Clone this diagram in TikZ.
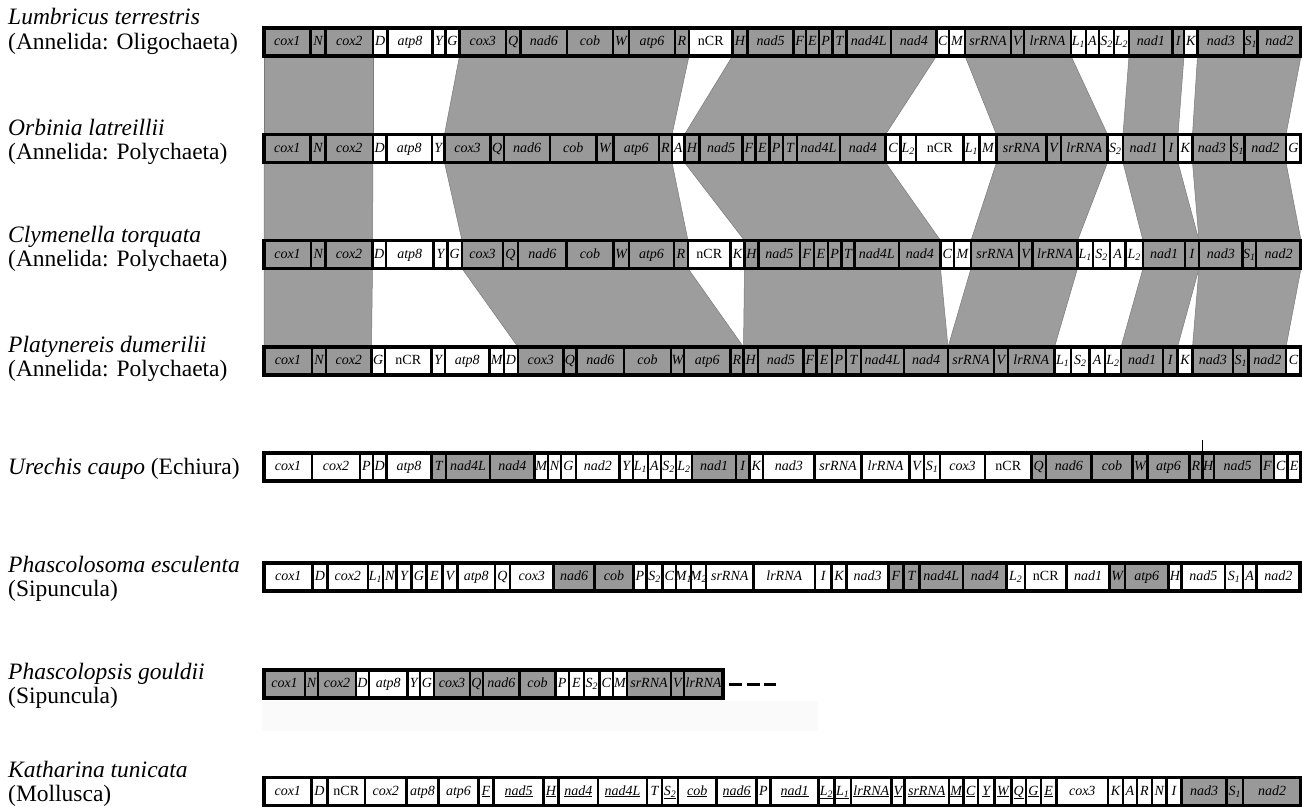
\documentclass[tikz,border=0pt]{standalone}
\usepackage{fontspec}
\setmainfont{Liberation Serif}
\usetikzlibrary{positioning,backgrounds}
\definecolor{geneg}{HTML}{999999}
\definecolor{bandg}{HTML}{9D9D9D}
\definecolor{bandedge}{HTML}{7A7A7A}
% gene labels that are not simply the node name
\newcommand\gul[1]{#1}
\newcommand\setglab[2]{\expandafter\def\csname gl-#1\endcsname{#2}}
\newcommand\glab[1]{\ifcsname gl-#1\endcsname\csname gl-#1\endcsname\else#1\fi}
\setglab{nCR}{\textup{nCR}}
\setglab{L1}{L\textsubscript{1}}
\setglab{L2}{L\textsubscript{2}}
\setglab{S1}{S\textsubscript{1}}
\setglab{S2}{S\textsubscript{2}}
\setglab{M1}{M\textsubscript{1}}
\setglab{M2}{M\textsubscript{2}}
\tikzset{
  genebox/.style={
    rectangle, draw=black, line width=2.4pt,
    minimum height=28, inner sep=0pt, outer sep=0pt,
    text height=10pt, text depth=3pt,
    font=\fontsize{14}{16}\selectfont\itshape
  },
  gg/.style={genebox, fill=geneg},
  ww/.style={genebox, fill=white},
  wu/.style={ww, /utils/exec=\let\gul\underline},
  rowframe/.style={draw=black, line width=3.4pt},
  band/.style={fill=bandg, draw=bandedge, line width=0.5pt},
  splabel/.style={
    anchor=west, align=left, inner sep=0pt,
    font=\fontsize{23.5}{24.5}\selectfont
  },
}
% one gene order: id, left x, centre y, list of name/width/style
\newcommand\generow[4]{%
  \coordinate (#1-start) at (#2,#3);
  \xdef\prev{#1-start}
  \foreach \nm/\w/\st in {#4}{
    \node[\st, minimum width=\w, right=0pt of \prev] (#1-\nm)
      {\makebox[0pt]{\gul{\glab{\nm}}}};
    \xdef\prev{#1-\nm}
  }
  \draw[rowframe] (#1-start |- \prev.north) rectangle (\prev.south east);
}
% shaded block between two gene orders
\newcommand\band[4]{%
  \filldraw[band] (#1.south west) -- (#2.south east)
    -- (#4.north east) -- (#3.north west) -- cycle;
}
\begin{document}
\begin{tikzpicture}[x=1pt, y=-1pt]
\useasboundingbox (0,0) rectangle (1302,807);

% Annelida
\generow{r1}{264}{42}{cox1/46.5/gg, N/15/gg, cox2/47.5/gg, D/14.5/ww, atp8/45/ww,
  Y/13/ww, G/14/ww, cox3/46.5/gg, Q/14.5/gg, nad6/46.5/gg, cob/46/gg, W/16/gg,
  atp6/46/gg, R/14/gg, nCR/43.5/ww, H/15/gg, nad5/46/gg, F/12.5/gg, E/13/gg,
  P/13.5/gg, T/14/gg, nad4L/44.5/gg, nad4/45.5/gg, C/12.5/ww, M/16/ww,
  srRNA/46/gg, V/13/gg, lrRNA/47/gg, L1/15/ww, A/13/ww, S2/15/ww, L2/15/ww,
  nad1/43.5/gg, I/11.5/gg, K/13.5/ww, nad3/46.5/gg, S1/13.5/gg, nad2/43.5/gg}
\generow{r2}{264}{148.5}{cox1/46.5/gg, N/15/gg, cox2/47.5/gg, D/13.5/ww,
  atp8/45.5/ww, Y/12.5/ww, cox3/46/gg, Q/13.5/gg, nad6/46/gg, cob/46.5/gg,
  W/17/gg, atp6/45.5/gg, R/13/gg, A/12.5/ww, H/15/gg, nad5/43/gg, F/13/gg,
  E/14/gg, P/13.5/gg, T/14/gg, nad4L/43/gg, nad4/45.5/gg, C/15/ww, L2/15.5/ww,
  nCR/47.5/ww, L1/16/ww, M/17/ww, srRNA/50/gg, V/14.5/gg, lrRNA/46.5/gg,
  S2/15.5/ww, nad1/41/gg, I/14/gg, K/14.5/ww, nad3/38.5/gg, S1/13.5/gg,
  nad2/41.5/gg, G/15/ww}
\generow{r3}{264}{254.5}{cox1/47/gg, N/14.5/gg, cox2/47/gg, D/13.5/ww,
  atp8/47.5/ww, Y/14/ww, G/14.5/ww, cox3/41/gg, Q/15/gg, nad6/48.5/gg,
  cob/47/gg, W/15.5/gg, atp6/45/gg, R/14/gg, nCR/42.5/ww, K/14/ww, H/14/gg,
  nad5/41.5/gg, F/14/gg, E/14/gg, P/13.5/gg, T/13/gg, nad4L/44.5/gg,
  nad4/41.5/gg, C/13.5/ww, M/17/ww, srRNA/48/gg, V/13.5/gg, lrRNA/45/gg,
  L1/15.5/ww, S2/17/ww, A/15.5/ww, L2/17.5/ww, nad1/42/gg, I/14/gg,
  nad3/43.5/gg, S1/13.5/gg, nad2/45/gg}
\generow{r4}{264}{361}{cox1/48/gg, N/14/gg, cox2/45.5/gg, G/13.5/ww,
  nCR/46.5/ww, Y/13.5/ww, atp8/44.5/ww, M/14.5/ww, D/14/ww, cox3/45.5/gg,
  Q/13/gg, nad6/47.5/gg, cob/47/gg, W/13/gg, atp6/46.5/gg, R/13/gg, H/14.5/gg,
  nad5/45.5/gg, F/13/gg, E/15.5/gg, P/14/gg, T/15/gg, nad4L/43/gg, nad4/44/gg,
  srRNA/46/gg, V/14/gg, lrRNA/46.5/gg, L1/16.5/ww, S2/18.5/ww, A/15.5/ww,
  L2/16/ww, nad1/42/gg, I/14.5/gg, K/15/ww, nad3/40.5/gg, S1/15.5/gg,
  nad2/37.5/gg, C/15/ww}

% conserved blocks
\begin{scope}[on background layer]
  \foreach \a/\b in {r1/r2, r2/r3, r3/r4}
    \foreach \p/\q in {cox1/cox2, cox3/R, H/nad4, srRNA/lrRNA, nad1/I, nad3/nad2}
      \band{\a-\p}{\a-\q}{\b-\p}{\b-\q};
\end{scope}

% Echiura, Sipuncula, Mollusca
\generow{r5}{264}{467}{cox1/48/ww, cox2/48/ww, P/13/ww, D/13.5/ww, atp8/45/ww,
  T/14.5/gg, nad4L/44/gg, nad4/44.5/gg, M/13.5/ww, N/13/ww, G/15/ww,
  nad2/43.5/ww, Y/13.5/ww, L1/15/ww, A/13/ww, S2/15/ww, L2/16/ww, nad1/44/gg,
  I/13.5/gg, K/13.5/ww, nad3/51.5/ww, srRNA/47/ww, lrRNA/48/ww, V/14.5/ww,
  S1/16/ww, cox3/45/ww, nCR/46.5/ww, Q/14.5/gg, nad6/45.5/gg, cob/41/gg,
  W/15/gg, atp6/42/gg, R/13/gg, H/11.5/gg, nad5/47/gg, F/13/gg, C/13.5/ww,
  E/13.5/ww}
\draw[line width=1.2pt] (r5-H.north west) -- ++(0,-13);

\generow{r6}{264}{577}{cox1/48.5/ww, D/15/ww, cox2/40.5/ww, L1/15/ww,
  N/13.5/ww, Y/15/ww, G/15/ww, E/16/ww, V/15/ww, atp8/37.5/ww, Q/15/ww,
  cox3/43.5/ww, nad6/41/gg, cob/39/gg, P/13/ww, S2/16/ww, C/13.5/ww, M1/15/ww,
  M2/15/ww, srRNA/47.5/ww, lrRNA/61.5/ww, I/16.5/ww, K/15/ww, nad3/42/ww,
  F/15/gg, T/16/gg, nad4L/43.5/gg, nad4/43.5/gg, L2/18.5/ww, nCR/41.5/ww,
  nad1/43/ww, W/15.5/gg, atp6/43.5/gg, H/13/ww, nad5/43.5/ww, S1/18/ww,
  A/13.5/ww, nad2/43.5/ww}

\fill[gray!4] (262,701) rectangle (818,731);
\generow{r7}{264}{684}{cox1/41/gg, N/13/gg, cox2/38/gg, D/13/ww, atp8/38.5/ww,
  Y/12.5/ww, G/14/ww, cox3/36/gg, Q/13/gg, nad6/36.5/gg, cob/36/gg, P/13.5/ww,
  E/15/ww, S2/15.5/ww, C/13.5/ww, M/14/ww, srRNA/44/gg, V/13/gg, lrRNA/39/gg}
\draw[line width=3pt, dash pattern=on 13pt off 4.5pt]
  ([xshift=6pt]r7-lrRNA.east) -- ++(47,0);

\generow{r8}{264}{791.5}{cox1/47.5/ww, D/16/ww, nCR/37.5/ww, cox2/41.5/ww,
  atp8/32/ww, atp6/40/ww, F/15/wu, nad5/50/wu, H/15/wu, nad4/39.5/wu,
  nad4L/49/wu, T/15/ww, S2/16/wu, cob/38.5/wu, nad6/40/wu, P/14/ww,
  nad1/48/wu, L2/16/wu, L1/16.5/wu, lrRNA/40.5/wu, V/13/wu, srRNA/44.5/wu,
  M/14.5/wu, C/14.5/wu, Y/16.5/wu, W/17/wu, Q/14.5/wu, G/15/wu, E/15.5/wu,
  cox3/51.5/ww, K/15/ww, A/14/ww, R/15/ww, N/14.5/ww, I/15/ww, nad3/45/gg,
  S1/16.5/gg, nad2/58/gg}

% species names
\node[splabel] (sp1) at (8,31.25) {\textit{Lumbricus terrestris}\\(Annelida: Oligochaeta)};
\node[splabel] (sp2) at (8,141.75) {\textit{Orbinia latreillii}\\(Annelida: Polychaeta)};
\node[splabel] (sp3) at (8,248.75) {\textit{Clymenella torquata}\\(Annelida: Polychaeta)};
\node[splabel] (sp4) at (8,358.75) {\textit{Platynereis dumerilii}\\(Annelida: Polychaeta)};
\node[splabel] (sp5) at (8,468.5) {\textit{Urechis caupo} (Echiura)};
\node[splabel] (sp6) at (8,578.75) {\textit{Phascolosoma esculenta}\\(Sipuncula)};
\node[splabel] (sp7) at (8,685.75) {\textit{Phascolopsis gouldii}\\(Sipuncula)};
\node[splabel] (sp8) at (8,784) {\textit{Katharina tunicata}\\(Mollusca)};
\end{tikzpicture}
\end{document}
